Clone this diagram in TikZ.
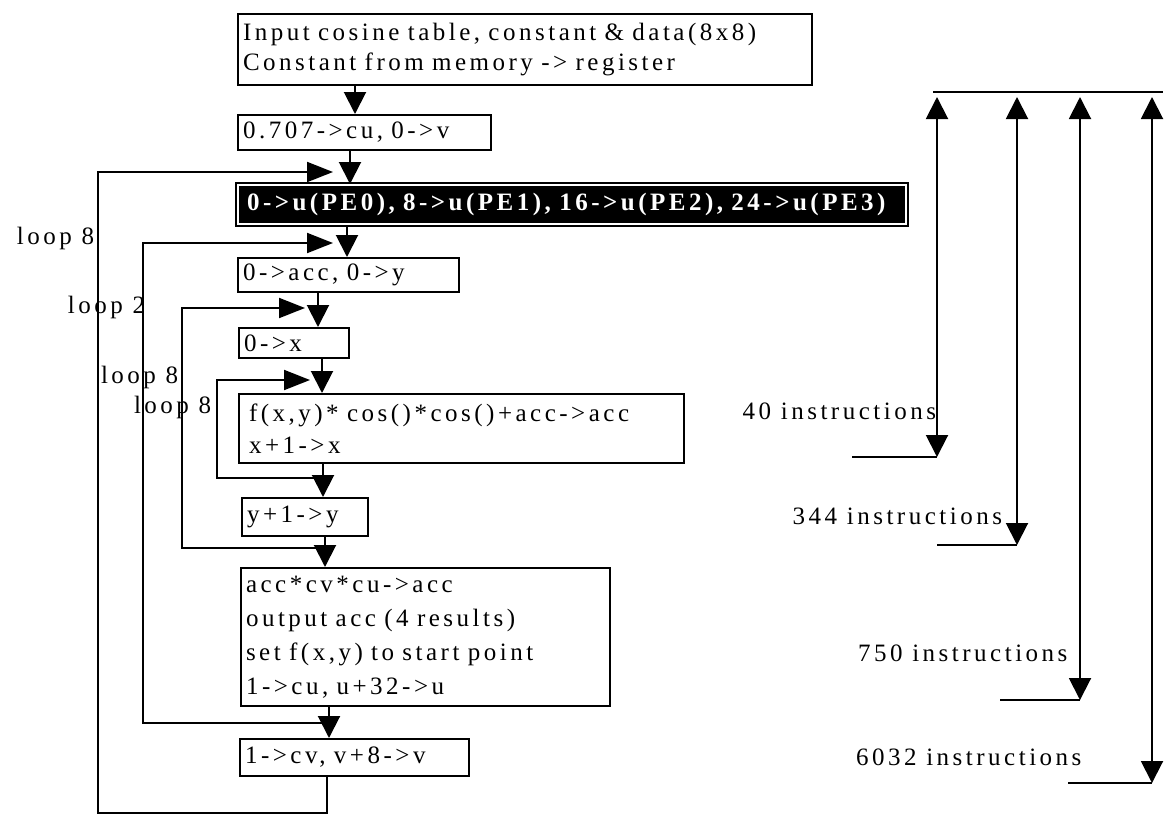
\documentclass[tikz,border=0pt]{standalone}
\usepackage{fontspec}
\setmainfont{Liberation Serif}[LetterSpace=14]
\usetikzlibrary{arrows.meta}

\begin{document}
\begin{tikzpicture}[x=1pt, y=-1pt, line width=2pt,
  txt/.style={font=\fontsize{25}{28}\selectfont},
  box/.style={txt, draw, rectangle, anchor=north west, inner xsep=5pt, inner ysep=0pt, align=left},
  lbl/.style={txt, inner sep=0pt},
  dn/.style={-{Triangle[length=22pt,width=22pt]}},
  rt/.style={-{Triangle[length=26pt,width=20pt]}},
  span/.style={{Triangle[length=22pt,width=22pt]}-{Triangle[length=22pt,width=22pt]}}]

\useasboundingbox (0,0) rectangle (1168,815);

% process boxes
\node[box, minimum width=574pt, minimum height=71pt, text width=564pt,
      font=\fontsize{25}{30}\selectfont] (b1) at (237,13)
  {Input cosine table, constant \& data(8x8)\\Constant from memory -> register};
\node[box, minimum width=253pt, minimum height=35pt, text width=243pt] (b2) at (237,114)
  {0.707->cu, 0->v};
\node[box, minimum width=668pt, minimum height=39pt, text width=650pt, inner xsep=7pt,
      fill=black, double=white, double distance=2pt, text=white,
      font=\fontsize{25}{28}\selectfont\bfseries] (b3) at (237,184)
  {0->u(PE0), 8->u(PE1), 16->u(PE2), 24->u(PE3)};
\node[box, minimum width=221pt, minimum height=34pt, text width=211pt] (b4) at (237,257)
  {0->acc, 0->y};
\node[box, minimum width=110pt, minimum height=30pt, text width=100pt] (b5) at (238,327)
  {0->x};
\node[box, minimum width=445pt, minimum height=69pt, text width=425pt, inner xsep=10pt,
      font=\fontsize{25}{32}\selectfont] (b6) at (238,393)
  {f(x,y)* cos()*cos()+acc->acc\\x+1->x};
\node[box, minimum width=126pt, minimum height=38pt, text width=116pt] (b7) at (241,497)
  {y+1->y};
\node[box, minimum width=369pt, minimum height=138pt, text width=359pt,
      font=\fontsize{25}{34}\selectfont] (b8) at (240,567)
  {acc*cv*cu->acc\\output acc (4 results)\\set f(x,y) to start point\\1->cu, u+32->u};
\node[box, minimum width=229pt, minimum height=37pt, text width=219pt] (b9) at (239,738)
  {1->cv, v+8->v};

% loop labels
\node[lbl, anchor=east] (lp1) at (95,238) {loop 8};
\node[lbl, anchor=east] (lp2) at (146,307) {loop 2};
\node[lbl, anchor=west] (lp3) at (100,377) {loop 8};
\node[lbl, anchor=west] (lp4) at (133,407) {loop 8};

% x positions of the downward flow arrows
\coordinate (a1) at (355,0);
\coordinate (a2) at (350,0);
\coordinate (a3) at (347,0);
\coordinate (a4) at (318,0);
\coordinate (a5) at (322,0);
\coordinate (a6) at (323,0);
\coordinate (a7) at (325,0);
\coordinate (a8) at (329,0);

\draw[dn] (b1.south -| a1) -- (b2.north -| a1);
\draw[dn] (b2.south -| a2) -- (b3.north -| a2);
\draw[dn] (b3.south -| a3) -- (b4.north -| a3);
\draw[dn] (b4.south -| a4) -- (b5.north -| a4);
\draw[dn] (b5.south -| a5) -- (b6.north -| a5);
\draw[dn] (b6.south -| a6) -- (b7.north -| a6);
\draw[dn] (b7.south -| a7) -- (b8.north -| a7);
\draw[dn] (b8.south -| a8) -- (b9.north -| a8);

% loop back edges
\coordinate (dS) at (327,813);
\coordinate (dL) at (98,813);
\coordinate (dT) at (333,172);
\draw[rt] (b9.south -| dS) -- (dS) -- (dL) -- (dL |- dT) -- (dT);

\coordinate (cS) at (329,723);
\coordinate (cL) at (143,723);
\coordinate (cT) at (333,243);
\draw[rt] (cS) -- (cL) -- (cL |- cT) -- (cT);

\coordinate (bS) at (325,548);
\coordinate (bL) at (182,548);
\coordinate (bT) at (305,308);
\draw[rt] (bS) -- (bL) -- (bL |- bT) -- (bT);

\coordinate (aS) at (323,478);
\coordinate (aL) at (217,478);
\coordinate (aT) at (310,380);
\draw[rt] (aS) -- (aL) -- (aL |- aT) -- (aT);

% instruction count spans
\coordinate (topL) at (933,92);
\coordinate (topR) at (1163,92);
\draw (topL) -- (topR);

\coordinate (s1t) at (937,97);   \coordinate (s1b) at (937,457);
\coordinate (s2t) at (1017,97);  \coordinate (s2b) at (1017,545);
\coordinate (s3t) at (1080,97);  \coordinate (s3b) at (1080,700);
\coordinate (s4t) at (1152,97);  \coordinate (s4b) at (1152,783);
\draw[span] (s1t) -- (s1b);
\draw[span] (s2t) -- (s2b);
\draw[span] (s3t) -- (s3b);
\draw[span] (s4t) -- (s4b);

\coordinate (e1) at (852,457);
\coordinate (e2) at (937,545);
\coordinate (e3) at (1000,700);
\coordinate (e4) at (1068,783);
\draw (e1) -- (s1b);
\draw (e2) -- (s2b);
\draw (e3) -- (s3b);
\draw (e4) -- (s4b);

\node[lbl, anchor=east] (t40) at (937,411) {40 instructions};
\node[lbl, anchor=east] (t344) at (1003,516) {344 instructions};
\node[lbl, anchor=west] (t750) at (857,653) {750 instructions};
\node[lbl, anchor=west] (t6032) at (855,757) {6032 instructions};

\end{tikzpicture}
\end{document}
